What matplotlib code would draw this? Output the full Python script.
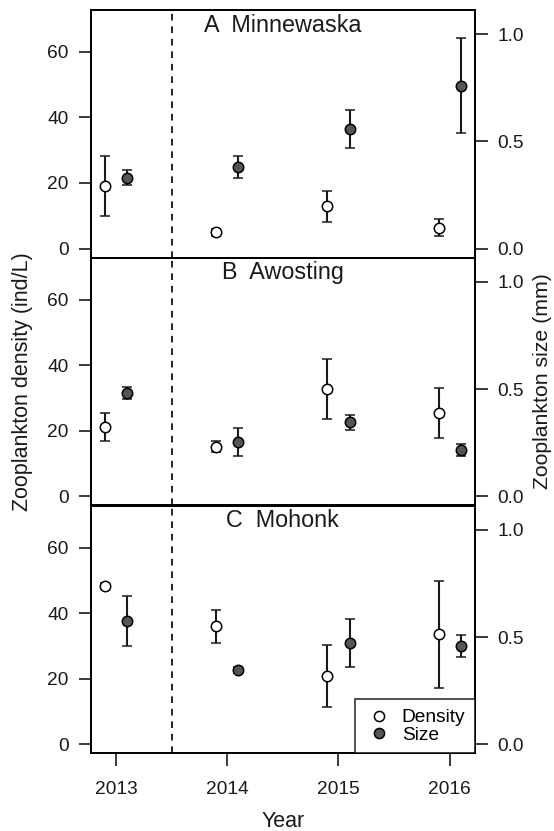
import matplotlib
matplotlib.use("Agg")
import matplotlib.pyplot as plt
from matplotlib.lines import Line2D
import numpy as np

plt.rcParams['font.family'] = ['Liberation Sans', 'DejaVu Sans']

years = [2013, 2014, 2015, 2016]
lakes = ["A  Minnewaska", "B  Awosting", "C  Mohonk"]

# Density (ind/L): mean and error
density_A = [19.1, 4.9, 12.9, 6.4]
density_A_err = [9.2, 1.0, 4.8, 2.7]
density_B = [21.2, 15.1, 32.8, 25.3]
density_B_err = [4.3, 1.7, 9.2, 7.6]
density_C = [48.3, 36.0, 20.9, 33.5]
density_C_err = [1.0, 5.1, 9.4, 16.4]

# Size (mm): mean and error
size_A = [0.331, 0.381, 0.558, 0.760]
size_A_err = [0.035, 0.050, 0.088, 0.222]
size_B = [0.481, 0.251, 0.344, 0.217]
size_B_err = [0.027, 0.065, 0.037, 0.028]
size_C = [0.574, 0.346, 0.472, 0.457]
size_C_err = [0.117, 0.012, 0.112, 0.051]

density = [density_A, density_B, density_C]
density_err = [density_A_err, density_B_err, density_C_err]
size = [size_A, size_B, size_C]
size_err = [size_A_err, size_B_err, size_C_err]

W, H = 554, 831
fig = plt.figure(figsize=(W / 100, H / 100), dpi=100)

left_px, right_px = 90.7, 475.0
tops = [10.0, 257.7, 505.7]
ph = 247.7

lw = 1.3
fill_dark = '#555555'
x = np.array(years, dtype=float)
off = 0.1

for i in range(3):
    bottom = (H - (tops[i] + ph)) / H
    ax = fig.add_axes([left_px / W, bottom, (right_px - left_px) / W, ph / H])
    ax2 = ax.twinx()
    ax.set_zorder(ax2.get_zorder() + 1)
    ax.patch.set_visible(False)

    ax.set_xlim(2012.772, 2016.228)
    ax.set_ylim(-2.8, 72.8)
    ax2.set_ylim(-0.0428, 1.1128)

    ax.axvline(2013.5, color='black', lw=1.2, ls=(0, (4, 3.5)), zorder=1)

    ax2.errorbar(x + off, size[i], yerr=size_err[i], fmt='o', ms=7.5,
                 mfc=fill_dark, mec='black', mew=1.1, ecolor='#1a1a1a',
                 elinewidth=1.5, capsize=3.4, capthick=1.5, zorder=3)
    ax.errorbar(x - off, density[i], yerr=density_err[i], fmt='o', ms=7.5,
                mfc='white', mec='black', mew=1.1, ecolor='#1a1a1a',
                elinewidth=1.5, capsize=3.4, capthick=1.5, zorder=3)

    ax.set_yticks([0, 20, 40, 60])
    ax2.set_yticks([0.0, 0.5, 1.0])
    ax2.set_yticklabels(['0.0', '0.5', '1.0'])
    for a in (ax, ax2):
        for s in a.spines.values():
            s.set_linewidth(lw)
        a.tick_params(axis='y', direction='out', length=9, width=1.2,
                      labelsize=13.8, colors='#1a1a1a', pad=7)
    ax.set_xticks(years)
    if i < 2:
        ax.tick_params(axis='x', bottom=False, labelbottom=False)
        ax2.tick_params(axis='x', bottom=False, labelbottom=False)
    else:
        ax.tick_params(axis='x', direction='out', length=9, width=1.2,
                       labelsize=13.8, colors='#1a1a1a', pad=11)
        ax.set_xticklabels([str(y) for y in years])
        ax.set_xlabel('Year', fontsize=15.5, color='#1a1a1a', labelpad=9)
        handles = [
            Line2D([], [], ls='none', marker='o', ms=7.3, mfc='white', mec='black', mew=1.1),
            Line2D([], [], ls='none', marker='o', ms=7.3, mfc=fill_dark, mec='black', mew=1.1),
        ]
        leg = ax.legend(handles, ['Density', 'Size'], loc='lower right',
                        borderaxespad=0, fontsize=13.8, frameon=True,
                        fancybox=False, edgecolor='black', borderpad=0.5,
                        labelspacing=0.0, handlelength=1.5, handletextpad=0.45)
        leg.get_frame().set_linewidth(1.2)
        leg.set_zorder(5)

    ax.text(0.5, 0.912, lakes[i], transform=ax.transAxes, ha='center',
            va='baseline', fontsize=16.8, color='#1a1a1a')

    if i == 1:
        ax.set_ylabel('Zooplankton density (ind/L)', fontsize=15.5, color='#1a1a1a', labelpad=10)
        ax2.set_ylabel('Zooplankton size (mm)', fontsize=15.3, color='#1a1a1a', labelpad=7)

fig.savefig('out.png', dpi=100)
